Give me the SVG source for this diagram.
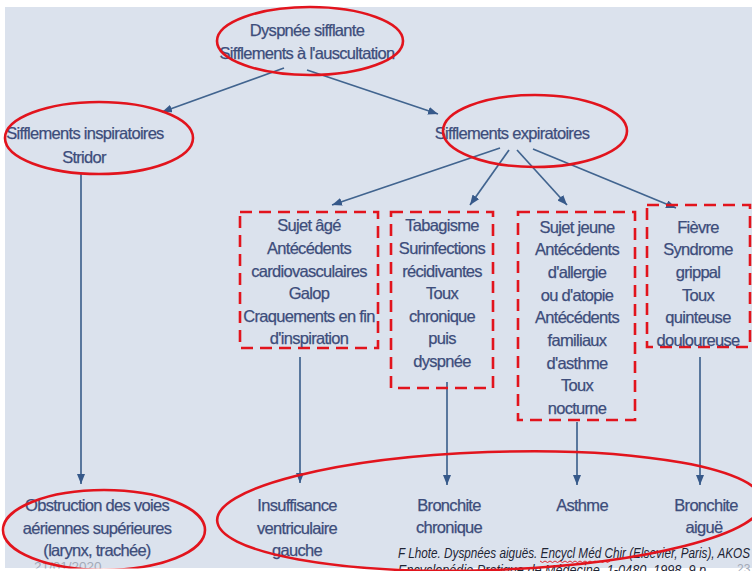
<svg xmlns="http://www.w3.org/2000/svg" width="752" height="571" viewBox="0 0 752 571">
<style>
.t{font-family:"Liberation Sans",Arial,sans-serif;font-size:16.5px;letter-spacing:-0.7px;fill:#3d4d7b;stroke:#3d4d7b;stroke-width:0.25;text-anchor:middle}
.ring{fill:none;stroke:#e2141d;stroke-width:2.6}
.box{fill:none;stroke:#e2141d;stroke-width:2.6;stroke-dasharray:12 7}
.ln{fill:none;stroke:#41648f;stroke-width:1.7;marker-end:url(#ah)}
.cite{font-family:"Liberation Sans",Arial,sans-serif;font-style:italic;font-size:14px;fill:#1e2535}
.grey{font-family:"Liberation Sans",Arial,sans-serif;font-size:13.5px;fill:#a3aab8}
</style>
<defs>
<marker id="ah" markerUnits="userSpaceOnUse" markerWidth="10" markerHeight="8" refX="10" refY="4" orient="auto">
<path d="M0,0 L10,4 L0,8 z" fill="#36598a"/>
</marker>
</defs>
<rect x="0" y="0" width="752" height="571" fill="#ffffff"/>
<rect x="5" y="7" width="747" height="561" fill="#dbe2ed"/>
<text class="grey" x="34" y="571">21/01/2020</text>
<g id="connectors">
<line class="ln" x1="284" y1="68" x2="162" y2="112"/>
<line class="ln" x1="307" y1="70" x2="438" y2="114"/>
<line class="ln" x1="81" y1="173" x2="81" y2="484"/>
<line class="ln" x1="500" y1="148" x2="332" y2="205"/>
<line class="ln" x1="509" y1="150" x2="470" y2="205"/>
<line class="ln" x1="517" y1="150" x2="567" y2="205"/>
<line class="ln" x1="533" y1="149" x2="676" y2="208"/>
<line class="ln" x1="300" y1="357" x2="300" y2="483"/>
<line class="ln" x1="447" y1="382" x2="447" y2="485"/>
<line class="ln" x1="577" y1="422" x2="577" y2="485"/>
<line class="ln" x1="700" y1="357" x2="700" y2="485"/>
</g>
<g id="top">
<text class="t" x="307" y="36">Dyspnée sifflante</text>
<text class="t" x="307" y="59">Sifflements à l'auscultation</text>
<ellipse class="ring" cx="310" cy="41" rx="93" ry="34"/>
</g>
<g id="inspiratoires">
<text class="t" x="85" y="139">Sifflements inspiratoires</text>
<text class="t" x="84" y="163">Stridor</text>
<ellipse class="ring" cx="99" cy="138" rx="94" ry="36"/>
</g>
<g id="expiratoires">
<text class="t" x="512" y="139">Sifflements expiratoires</text>
<ellipse class="ring" cx="535" cy="131" rx="92" ry="36"/>
</g>
<g id="box1">
<rect class="box" x="240" y="212" width="138" height="136"/>
<text class="t" x="309" y="231">Sujet âgé</text>
<text class="t" x="309" y="254">Antécédents</text>
<text class="t" x="309" y="277">cardiovasculaires</text>
<text class="t" x="309" y="299">Galop</text>
<text class="t" x="309" y="322">Craquements en fin</text>
<text class="t" x="309" y="344">d'inspiration</text>
</g>
<g id="box2">
<rect class="box" x="391" y="212" width="102" height="176"/>
<text class="t" x="442" y="231">Tabagisme</text>
<text class="t" x="442" y="254">Surinfections</text>
<text class="t" x="442" y="277">récidivantes</text>
<text class="t" x="442" y="299">Toux</text>
<text class="t" x="442" y="322">chronique</text>
<text class="t" x="442" y="344">puis</text>
<text class="t" x="442" y="367">dyspnée</text>
</g>
<g id="box3">
<rect class="box" x="518" y="212" width="117" height="208"/>
<text class="t" x="577" y="233">Sujet jeune</text>
<text class="t" x="577" y="255">Antécédents</text>
<text class="t" x="577" y="278">d'allergie</text>
<text class="t" x="577" y="301">ou d'atopie</text>
<text class="t" x="577" y="323">Antécédents</text>
<text class="t" x="577" y="346">familiaux</text>
<text class="t" x="577" y="369">d'asthme</text>
<text class="t" x="577" y="391">Toux</text>
<text class="t" x="577" y="414">nocturne</text>
</g>
<g id="box4">
<rect class="box" x="647" y="205" width="103" height="142"/>
<text class="t" x="698" y="233">Fièvre</text>
<text class="t" x="698" y="255">Syndrome</text>
<text class="t" x="698" y="278">grippal</text>
<text class="t" x="698" y="301">Toux</text>
<text class="t" x="698" y="323">quinteuse</text>
<text class="t" x="698" y="346">douloureuse</text>
</g>
<g id="obstruction">
<text class="t" x="97" y="511">Obstruction des voies</text>
<text class="t" x="97" y="534">aériennes supérieures</text>
<text class="t" x="97" y="556">(larynx, trachée)</text>
<ellipse class="ring" cx="104" cy="530" rx="101" ry="40"/>
</g>
<g id="diagnostics">
<text class="t" x="297" y="511">Insuffisance</text>
<text class="t" x="297" y="534">ventriculaire</text>
<text class="t" x="297" y="556">gauche</text>
<text class="t" x="449" y="511">Bronchite</text>
<text class="t" x="449" y="533">chronique</text>
<text class="t" x="582" y="511">Asthme</text>
<text class="t" x="706" y="511">Bronchite</text>
<text class="t" x="704" y="533">aiguë</text>
</g>
<rect x="0" y="568.5" width="752" height="3" fill="#ffffff"/>
<g id="citation">
<text class="cite" x="398" y="558" textLength="352" lengthAdjust="spacingAndGlyphs">F Lhote. Dyspnées aiguës. Encycl Méd Chir (Elsevier, Paris), AKOS</text>
<path d="M540,561 l2.5,1.5 l2.5,-1.5 l2.5,1.5 l2.5,-1.5 l2.5,1.5 l2.5,-1.5 l2.5,1.5 l2.5,-1.5 l2.5,1.5 l2.5,-1.5 l2.5,1.5 l2.5,-1.5 l2.5,1.5 l2.5,-1.5 l2.5,1.5 l2.5,-1.5 l2.5,1.5 l2.5,-1.5 l2.5,1.5 l2.5,-1.5 l2.5,1.5 l2.5,-1.5 l2.5,1.5 l2.5,-1.5 l2.5,1.5 l2.5,-1.5 l2.5,1.5 l2.5,-1.5" fill="none" stroke="#e2141d" stroke-width="0.9"/>
<text class="cite" x="398" y="575" textLength="308" lengthAdjust="spacingAndGlyphs">Encyclopédie Pratique de Médecine, 1-0480, 1998, 9 p</text>
<text class="grey" x="737" y="573" style="font-size:12px">23</text>
</g>
<ellipse class="ring" cx="490" cy="511" rx="273" ry="59" transform="rotate(-2 490 511)"/>
</svg>
